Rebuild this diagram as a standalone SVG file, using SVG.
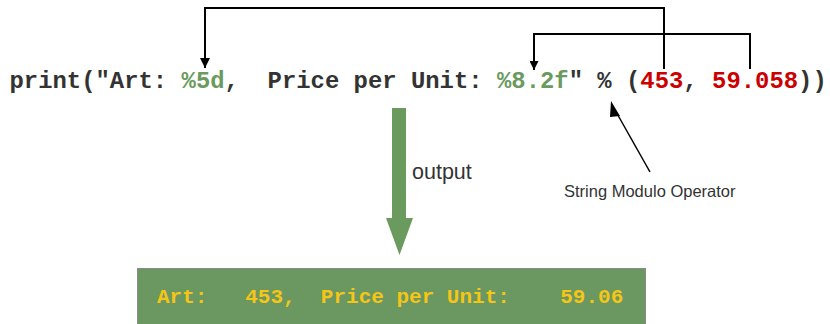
<svg xmlns="http://www.w3.org/2000/svg" width="830" height="324" viewBox="0 0 830 324">
  <style>
    .code { font-family: "Liberation Mono", "Courier New", monospace; font-weight: bold; white-space: pre; }
    .plain { fill: #333333; }
    .fmt { fill: #6a9a5e; }
    .val { fill: #cc0000; }
    .label { font-family: "Liberation Sans", Arial, sans-serif; fill: #333333; }
    .link { fill: none; stroke: #000000; stroke-width: 2; }
  </style>
  <defs>
    <marker id="headBig" viewBox="0 0 10 10" refX="10" refY="5" markerWidth="5" markerHeight="7.5" markerUnits="strokeWidth" orient="auto">
      <path d="M0,0 L10,5 L0,10 z" fill="#000"/>
    </marker>
    <marker id="headSmall" viewBox="0 0 10 10" refX="10" refY="5" markerWidth="5.5" markerHeight="4.5" markerUnits="strokeWidth" orient="auto">
      <path d="M0,0 L10,5 L0,10 z" fill="#000"/>
    </marker>
  </defs>

  <rect width="830" height="324" fill="#ffffff"/>

  <g id="code-line">
    <text class="code" x="9.5" y="88" font-size="23.9" xml:space="preserve"><tspan class="plain">print("Art: </tspan><tspan class="fmt">%5d</tspan><tspan class="plain">,  Price per Unit: </tspan><tspan class="fmt">%8.2f</tspan><tspan class="plain">" % (</tspan><tspan class="val">453</tspan><tspan class="plain">, </tspan><tspan class="val">59.058</tspan><tspan class="plain">))</tspan></text>
  </g>

  <g id="connectors">
    <!-- 453 feeds %5d -->
    <path class="link" d="M664,69 V8 H205 V68" marker-end="url(#headBig)"/>
    <!-- 59.058 feeds %8.2f -->
    <path class="link" d="M750,69 V34 H534 V70" marker-end="url(#headSmall)"/>
    <!-- pointer to the % operator -->
    <path d="M650,172 L615,110" stroke="#000" stroke-width="1.5" fill="none"/>
    <path d="M611,101 L620,116 L610,117 z" fill="#000"/>
  </g>

  <g id="output-arrow">
    <path d="M392,108 H406 V218 H413 L399.5,255 L386,218 H392 z" fill="#6a9a5e"/>
    <text class="label" x="412" y="179" font-size="21.5">output</text>
  </g>

  <g id="operator-note">
    <text class="label" x="564" y="197" font-size="16.5">String Modulo Operator</text>
  </g>

  <g id="result-box">
    <rect x="137.5" y="268.5" width="508" height="60" fill="#6a9860" stroke="#8a8a8a" stroke-width="1"/>
    <text class="code" x="157" y="303" font-size="21" fill="#f5c518" xml:space="preserve">Art:   453,  Price per Unit:    59.06</text>
  </g>
</svg>
